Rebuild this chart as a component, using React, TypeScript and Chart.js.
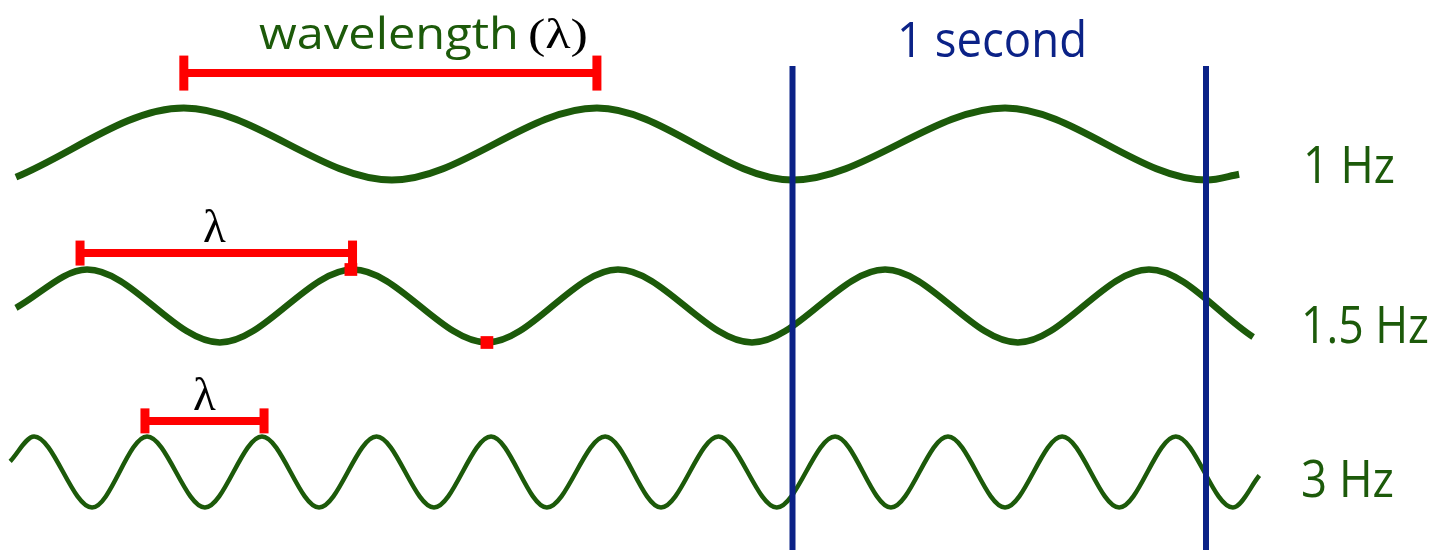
import React, { useEffect, useRef } from 'react';
import { Chart, registerables } from 'chart.js';

Chart.register(...registerables);

// ---------- data (time in seconds, amplitude in -1..1) ----------
const wave1Time = [-1.878, -1.472, -0.969, -0.473, 0.0, 0.514, 1.002, 1.08];
const wave1Amp = [-0.92, 1, -1, 1, -1, 1, -1, -0.84];

const wave2Time = [-1.878, -1.706, -1.385, -1.063, -0.739, -0.422, -0.098, 0.224, 0.545, 0.862, 1.114];
const wave2Amp = [-0.05, 1, -1, 1, -1, 1, -1, 1, -1, 1, -0.85];

const wave3Time = [
  -1.892, -1.834, -1.694, -1.561, -1.421, -1.283, -1.145, -1.006, -0.867, -0.729, -0.594, -0.453,
  -0.318, -0.179, -0.038, 0.103, 0.238, 0.376, 0.514, 0.652, 0.79, 0.927, 1.065, 1.129,
];
const wave3Amp = [
  0.3, 1, -1, 1, -1, 1, -1, 1, -1, 1, -1, 1, -1, 1, -1, 1, -1, 1, -1, 1, -1, 1, -1, -0.1,
];

// wavelength markers: [start, end] time and amplitude level
const wavelengthStart = [-1.472, -1.723, -1.566];
const wavelengthEnd = [-0.473, -1.064, -1.278];
const wavelengthLevel = [1.97, 1.45, 1.44];

// red marks on the 1.5 Hz wave
const markTime = [-1.068, -0.739];
const markAmp = [1, -1];

// one-second boundaries
const secondTimes = [0, 1];
const secondTop = 0.88;

const frequencyLabels = ['1 Hz', '1.5 Hz', '3 Hz'];
const titleLabel = 'wavelength';
const lambda = 'λ';
const secondLabel = '1 second';

// ---------- layout ----------
const W = 1441;
const H = 550;
const ORIGIN_PX = 792.5;
const PX_PER_SEC = 413.5;
const GREEN = '#1c5a0a';
const NAVY = '#0b2287';
const RED = '#ff0000';

function yAxis(centerPx: number, ampPx: number) {
  return {
    type: 'linear' as const,
    display: false,
    min: (centerPx - H) / ampPx,
    max: centerPx / ampPx,
  };
}

const toXY = (xs: number[], ys: number[]) => xs.map((x, i) => ({ x, y: ys[i] }));

type Ann = {
  text: string;
  t: number;
  f: number;
  font: string;
  color: string;
  width?: number;
  align?: 'left' | 'center';
};

const annotations: Ann[] = [
  { text: titleLabel, t: -1.2902, f: 0.9109, font: '43px "Open Sans"', color: GREEN, width: 260 },
  { text: '(' + lambda + ')', t: -0.6397, f: 0.912, font: '43px "Liberation Serif"', color: '#000', width: 60 },
  { text: secondLabel, t: 0.2527, f: 0.8964, font: '49px "Open Sans"', color: NAVY, width: 190 },
  { text: frequencyLabels[0], t: 1.2346, f: 0.6673, font: '52px "Open Sans"', color: GREEN, width: 92 },
  { text: frequencyLabels[1], t: 1.2297, f: 0.3764, font: '52px "Open Sans"', color: GREEN, width: 128 },
  { text: frequencyLabels[2], t: 1.2297, f: 0.0964, font: '52px "Open Sans"', color: GREEN, width: 93 },
  { text: lambda, t: -1.3978, f: 0.56, font: '47px "Liberation Serif"', color: '#000', align: 'center' },
  { text: lambda, t: -1.422, f: 0.2545, font: '47px "Liberation Serif"', color: '#000', align: 'center' },
];

const textPlugin = {
  id: 'annotText',
  afterDatasetsDraw(chart: any) {
    const ctx = chart.ctx as CanvasRenderingContext2D;
    const xs = chart.scales.x;
    const ys = chart.scales.yFrame;
    for (const a of annotations) {
      ctx.save();
      ctx.font = a.font;
      ctx.fillStyle = a.color;
      ctx.textBaseline = 'alphabetic';
      ctx.textAlign = 'left';
      const px = xs.getPixelForValue(a.t);
      const py = ys.getPixelForValue(a.f);
      const m = ctx.measureText(a.text).width;
      const sx = a.width ? a.width / m : 1;
      const w = m * sx;
      const left = a.align === 'center' ? px - w / 2 : px;
      ctx.translate(left, py);
      ctx.scale(sx, 1);
      ctx.fillText(a.text, 0, 0);
      ctx.restore();
    }
  },
};

export default function App() {
  const ref = useRef<HTMLCanvasElement | null>(null);

  useEffect(() => {
    if (!ref.current) return;
    const waveStyle = (width: number) => ({
      borderColor: GREEN,
      borderWidth: width,
      pointRadius: 0,
      cubicInterpolationMode: 'monotone' as const,
      tension: 0.4,
      borderJoinStyle: 'round' as const,
      fill: false,
      order: 3,
    });
    const capRadius = [17.5, 12.5, 12.5];
    const axisIds = ['yW1', 'yW2', 'yW3'];

    const barSets = wavelengthStart.map((s, i) => ({
      data: [
        { x: s, y: wavelengthLevel[i] },
        { x: wavelengthEnd[i], y: wavelengthLevel[i] },
      ],
      yAxisID: axisIds[i],
      borderColor: RED,
      borderWidth: 8,
      pointStyle: 'line' as const,
      rotation: 90,
      pointRadius: capRadius[i],
      pointBorderWidth: 9,
      pointBorderColor: RED,
      pointBackgroundColor: RED,
      tension: 0,
      fill: false,
      order: 2,
      clip: false as any,
    }));

    const secondSets = secondTimes.map((t) => ({
      data: [
        { x: t, y: 0 },
        { x: t, y: secondTop },
      ],
      yAxisID: 'yFrame',
      borderColor: NAVY,
      borderWidth: 6,
      pointRadius: 0,
      tension: 0,
      fill: false,
      order: 1,
    }));

    const chart = new Chart(ref.current, {
      type: 'line',
      data: {
        datasets: [
          { data: toXY(wave1Time, wave1Amp), yAxisID: 'yW1', ...waveStyle(7) },
          { data: toXY(wave2Time, wave2Amp), yAxisID: 'yW2', ...waveStyle(6.5) },
          { data: toXY(wave3Time, wave3Amp), yAxisID: 'yW3', ...waveStyle(4.5) },
          ...barSets,
          ...secondSets,
          {
            data: toXY(markTime, markAmp),
            yAxisID: 'yW2',
            showLine: false,
            pointStyle: 'rect',
            pointRadius: 9,
            pointBorderWidth: 0,
            pointBackgroundColor: RED,
            pointBorderColor: RED,
            order: 0,
          },
        ] as any,
      },
      options: {
        animation: false,
        responsive: false,
        maintainAspectRatio: false,
        devicePixelRatio: 1,
        layout: { padding: 0, autoPadding: false },
        events: [],
        plugins: {
          legend: { display: false },
          tooltip: { enabled: false },
          title: { display: false },
        },
        scales: {
          x: {
            type: 'linear',
            display: false,
            min: (0 - ORIGIN_PX) / PX_PER_SEC,
            max: (W - ORIGIN_PX) / PX_PER_SEC,
          },
          yW1: yAxis(144, 36),
          yW2: yAxis(306, 36.5),
          yW3: yAxis(472, 35.5),
          yFrame: { type: 'linear', display: false, min: 0, max: 1 },
        },
      } as any,
      plugins: [textPlugin],
    });
    return () => chart.destroy();
  }, []);

  return (
    <div style={{ position: 'fixed', left: 0, top: 0, width: W, height: H, background: '#fff' }}>
      <canvas ref={ref} width={W} height={H} style={{ display: 'block', width: W, height: H }} />
    </div>
  );
}
